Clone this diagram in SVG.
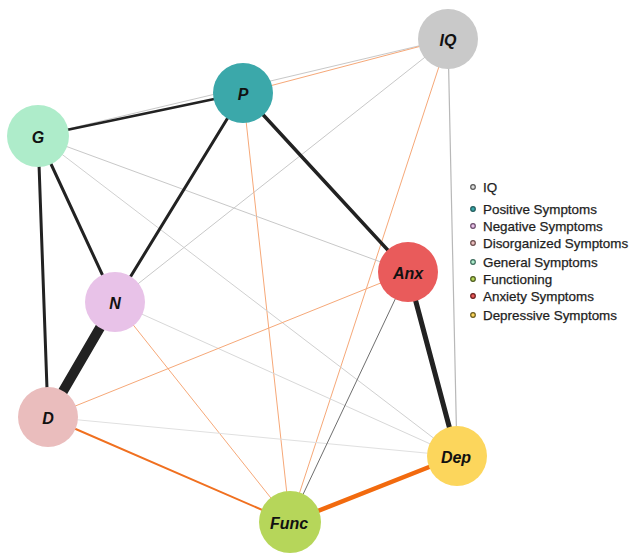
<svg xmlns="http://www.w3.org/2000/svg" width="630" height="556" viewBox="0 0 630 556">
<style>
.lbl{font-family:"Liberation Sans",Arial,sans-serif;font-weight:bold;font-style:italic;font-size:16px;fill:#111;text-anchor:middle;dominant-baseline:central}
.leg{font-family:"Liberation Sans",Arial,sans-serif;font-size:13.4px;fill:#1e1e1e;stroke:#1e1e1e;stroke-width:0.25}
.e{fill:none;stroke-linecap:round}
.k{stroke:#222}
.gr{stroke:#c8c8c8;stroke-width:1}
.or{stroke:#f6a878;stroke-width:1}
.dot{stroke-width:1.2}
</style>
<rect width="630" height="556" fill="#fff"/>
<g id="connectors">
<line class="e gr" x1="38" y1="136" x2="448" y2="39"/>
<line class="e or" x1="243" y1="93" x2="448" y2="39"/>
<line class="e gr" x1="448" y1="39" x2="115" y2="302"/>
<line class="e or" x1="448" y1="39" x2="290" y2="522"/>
<line class="e" stroke="#b8b8b8" stroke-width="1.2" x1="448" y1="39" x2="457" y2="456"/>
<line class="e or" x1="243" y1="93" x2="290" y2="522"/>
<line class="e gr" x1="38" y1="136" x2="408" y2="272"/>
<line class="e" stroke="#d0d0d0" stroke-width="1" x1="38" y1="136" x2="457" y2="456"/>
<line class="e" stroke="#d8d8d8" stroke-width="1" x1="115" y1="302" x2="457" y2="456"/>
<line class="e or" x1="115" y1="302" x2="290" y2="522"/>
<line class="e or" x1="48" y1="417" x2="408" y2="272"/>
<line class="e" stroke="#e0e0e0" stroke-width="1" x1="48" y1="417" x2="457" y2="456"/>
<line class="e" stroke="#6e6e6e" stroke-width="1" x1="408" y1="272" x2="290" y2="522"/>
<line class="e" stroke="#f07020" stroke-width="2" x1="48" y1="417" x2="290" y2="522"/>
<line class="e" stroke="#f26a0e" stroke-width="4.5" x1="290" y1="522" x2="457" y2="456"/>
<line class="e k" stroke-width="2.5" x1="38" y1="136" x2="243" y2="93"/>
<line class="e k" stroke-width="3" x1="38" y1="136" x2="115" y2="302"/>
<line class="e k" stroke-width="3" x1="38" y1="136" x2="48" y2="417"/>
<line class="e k" stroke-width="3" x1="243" y1="93" x2="115" y2="302"/>
<line class="e k" stroke-width="3.5" x1="243" y1="93" x2="408" y2="272"/>
<line class="e k" stroke-width="10" x1="115" y1="302" x2="48" y2="417"/>
<line class="e k" stroke-width="5" x1="408" y1="272" x2="457" y2="456"/>
</g>
<g id="node-IQ"><circle cx="448" cy="39" r="30" fill="#c9c9c9"/><text class="lbl" x="448" y="40">IQ</text></g>
<g id="node-P"><circle cx="243" cy="93" r="30" fill="#3ba8aa"/><text class="lbl" x="243" y="94">P</text></g>
<g id="node-G"><circle cx="38" cy="136" r="31" fill="#aeecca"/><text class="lbl" x="38" y="137">G</text></g>
<g id="node-N"><circle cx="115" cy="302" r="30" fill="#e8c2e8"/><text class="lbl" x="115" y="303">N</text></g>
<g id="node-D"><circle cx="48" cy="417" r="30" fill="#eabdbd"/><text class="lbl" x="48" y="418">D</text></g>
<g id="node-Anx"><circle cx="408" cy="272" r="30" fill="#e95b5b"/><text class="lbl" x="408" y="273">Anx</text></g>
<g id="node-Dep"><circle cx="457" cy="456" r="30" fill="#fcd65c"/><text class="lbl" x="456" y="457">Dep</text></g>
<g id="node-Func"><circle cx="290" cy="522" r="31" fill="#b6d65a"/><text class="lbl" x="289" y="523">Func</text></g>
<g id="legend">
<circle class="dot" cx="473" cy="187" r="2.3" fill="#ddd" stroke="#555"/><text class="leg" x="483" y="192">IQ</text>
<circle class="dot" cx="473" cy="209" r="2.3" fill="#3ba8aa" stroke="#1f5a5a"/><text class="leg" x="483" y="214">Positive Symptoms</text>
<circle class="dot" cx="473" cy="226" r="2.3" fill="#e8c2e8" stroke="#6a4a6a"/><text class="leg" x="483" y="231">Negative Symptoms</text>
<circle class="dot" cx="473" cy="243" r="2.3" fill="#eabdbd" stroke="#6a4a4a"/><text class="leg" x="483" y="248">Disorganized Symptoms</text>
<circle class="dot" cx="473" cy="262" r="2.3" fill="#aeecca" stroke="#3a6a5a"/><text class="leg" x="483" y="267">General Symptoms</text>
<circle class="dot" cx="473" cy="279" r="2.3" fill="#b6d65a" stroke="#4a5a1a"/><text class="leg" x="483" y="284">Functioning</text>
<circle class="dot" cx="473" cy="296" r="2.3" fill="#e95b5b" stroke="#6a1a1a"/><text class="leg" x="483" y="301">Anxiety Symptoms</text>
<circle class="dot" cx="473" cy="315" r="2.3" fill="#fcd65c" stroke="#6a5a1a"/><text class="leg" x="483" y="320">Depressive Symptoms</text>
</g>
</svg>
